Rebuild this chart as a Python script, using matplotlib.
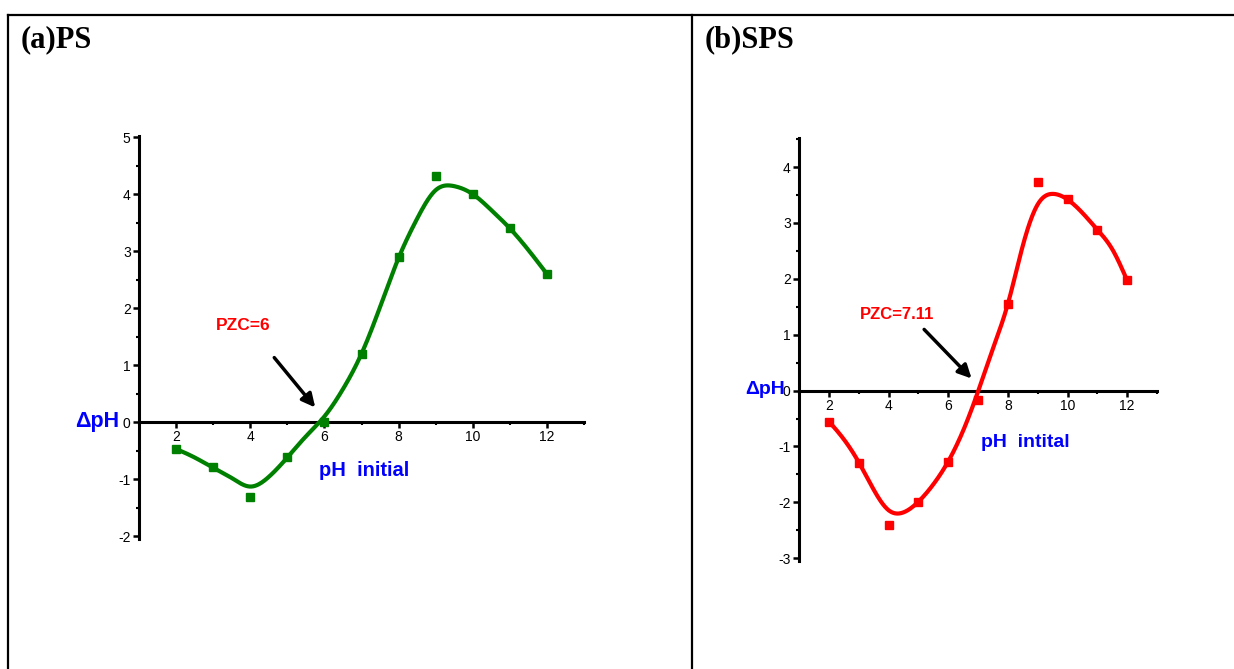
import matplotlib
matplotlib.use("Agg")
import matplotlib.pyplot as plt
import numpy as np
from matplotlib.lines import Line2D
from matplotlib.ticker import MultipleLocator

plt.rcParams['font.family'] = ['Liberation Sans', 'DejaVu Sans']
plt.rcParams['axes.unicode_minus'] = False

# measured points
ph = np.array([2, 3, 4, 5, 6, 7, 8, 9, 10, 11, 12])
dph_ps = np.array([-0.47, -0.79, -1.31, -0.61, 0.0, 1.2, 2.9, 4.32, 4.0, 3.4, 2.6])
dph_sps = np.array([-0.56, -1.29, -2.41, -2.0, -1.28, -0.17, 1.55, 3.74, 3.42, 2.88, 1.97])

# fitted curves
fit_x = np.array([2, 2.5, 3, 3.5, 4, 4.5, 5, 5.5, 6, 6.5, 7, 7.5, 8, 8.5, 9, 9.5, 10, 10.5, 11, 11.5, 12])
fit_ps = np.array([-0.47, -0.62, -0.80, -0.98, -1.13, -0.96, -0.62, -0.25, 0.10, 0.58, 1.20,
                   2.02, 2.88, 3.57, 4.07, 4.14, 4.00, 3.72, 3.40, 3.02, 2.60])
fit_sps = np.array([-0.55, -0.87, -1.28, -1.77, -2.14, -2.18, -1.99, -1.68, -1.27, -0.72, -0.02,
                    0.75, 1.55, 2.59, 3.33, 3.52, 3.42, 3.18, 2.88, 2.53, 1.97])

GREEN = '#008000'
RED = '#ff0000'
BLUE = '#0000ff'


def smooth(xs, ys, n=400):
    # natural cubic spline through the read curve points
    h = np.diff(xs)
    N = len(xs)
    A = np.zeros((N, N))
    b = np.zeros(N)
    A[0, 0] = A[-1, -1] = 1
    for i in range(1, N - 1):
        A[i, i - 1] = h[i - 1]
        A[i, i] = 2 * (h[i - 1] + h[i])
        A[i, i + 1] = h[i]
        b[i] = 6 * ((ys[i + 1] - ys[i]) / h[i] - (ys[i] - ys[i - 1]) / h[i - 1])
    M = np.linalg.solve(A, b)
    xx = np.linspace(xs[0], xs[-1], n)
    k = np.clip(np.searchsorted(xs, xx) - 1, 0, N - 2)
    hk = h[k]
    a = (xs[k + 1] - xx) / hk
    c = (xx - xs[k]) / hk
    yy = (a * ys[k] + c * ys[k + 1]
          + ((a ** 3 - a) * M[k] + (c ** 3 - c) * M[k + 1]) * hk ** 2 / 6)
    return xx, yy


def style_axes(ax, ylim):
    ax.set_xlim(1, 13)
    ax.set_ylim(*ylim)
    for s in ('top', 'right'):
        ax.spines[s].set_visible(False)
    ax.spines['bottom'].set_position(('data', 0))
    ax.spines['bottom'].set_linewidth(2.2)
    ax.spines['left'].set_linewidth(2.2)
    ax.xaxis.set_major_locator(MultipleLocator(2))
    ax.xaxis.set_minor_locator(MultipleLocator(1))
    ax.yaxis.set_major_locator(MultipleLocator(1))
    ax.yaxis.set_minor_locator(MultipleLocator(0.5))
    ax.tick_params(which='major', direction='out', length=4, width=1.8, pad=2, labelsize=10)
    ax.tick_params(which='minor', direction='out', length=2.5, width=1.5)
    ax.set_xticks([2, 4, 6, 8, 10, 12])


fig = plt.figure(figsize=(12.34, 6.69), dpi=100)

# table borders
for seg in (([8, 1234], [15, 15]), ([8, 8], [15, 669]), ([692, 692], [15, 669])):
    fig.add_artist(Line2D(np.array(seg[0]) / 1234, 1 - np.array(seg[1]) / 669,
                          transform=fig.transFigure, color='black', lw=1.6))

fig.text(21 / 1234, 1 - 47 / 669, '(a)PS', family='Liberation Serif', weight='bold', fontsize=22, va='baseline')
fig.text(705 / 1234, 1 - 47 / 669, '(b)SPS', family='Liberation Serif', weight='bold', fontsize=22, va='baseline')

# (a) PS
ax1 = fig.add_axes([139 / 1234, 1 - 539 / 669, 445 / 1234, 403 / 669])
style_axes(ax1, (-2.05, 5.02))
cx, cy = smooth(fit_x, fit_ps)
ax1.plot(cx, cy, color=GREEN, lw=3, zorder=3)
ax1.plot(ph, dph_ps, 's', color=GREEN, ms=6, zorder=4)
ax1.annotate('', xy=(5.8, 0.22), xytext=(4.6, 1.17),
             arrowprops=dict(arrowstyle='-|>', color='black', lw=2.5, mutation_scale=20))
ax1.text(3.8, 1.7, 'PZC=6', color=RED, weight='bold', fontsize=12.5, ha='center', va='center')
ax1.text(7.07, -0.84, 'pH  initial', color=BLUE, weight='bold', fontsize=14.5, ha='center', va='center')
ax1.text(-0.045, 0.02, '\u0394pH', color=BLUE, weight='bold', fontsize=15.5, ha='right', va='center',
         transform=ax1.get_yaxis_transform())

# (b) SPS
ax2 = fig.add_axes([799 / 1234, 1 - 561 / 669, 358 / 1234, 423 / 669])
style_axes(ax2, (-3.05, 4.52))
cx, cy = smooth(fit_x, fit_sps)
ax2.plot(cx, cy, color=RED, lw=3, zorder=3)
ax2.plot(ph, dph_sps, 's', color=RED, ms=6, zorder=4)
ax2.annotate('', xy=(6.85, 0.18), xytext=(5.13, 1.13),
             arrowprops=dict(arrowstyle='-|>', color='black', lw=2.5, mutation_scale=20))
ax2.text(4.28, 1.37, 'PZC=7.11', color=RED, weight='bold', fontsize=12, ha='center', va='center')
ax2.text(8.6, -0.93, 'pH  intital', color=BLUE, weight='bold', fontsize=14, ha='center', va='center')
ax2.text(-0.04, 0.02, '\u0394pH', color=BLUE, weight='bold', fontsize=14, ha='right', va='center',
         transform=ax2.get_yaxis_transform())

fig.savefig('out.png', dpi=100)
